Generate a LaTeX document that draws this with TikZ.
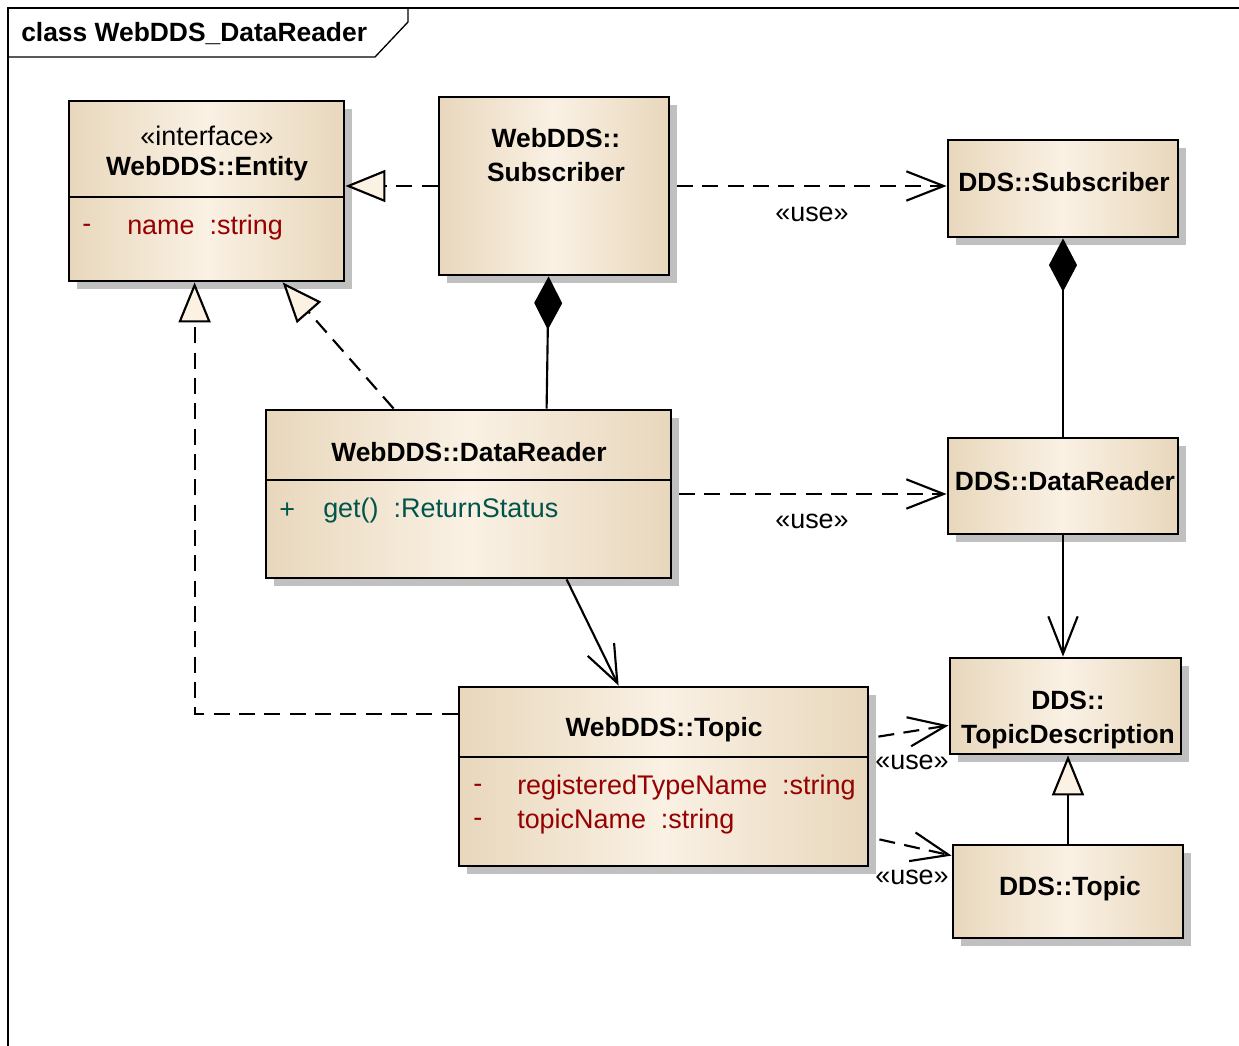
\documentclass[tikz,border=0pt]{standalone}
\usepackage{fontspec}
\setmainfont{Liberation Sans}
\usetikzlibrary{arrows.meta,calc,fit,shadows}

\definecolor{tanE}{RGB}{232,215,188}
\definecolor{tanC}{RGB}{250,241,228}
\definecolor{shadowgray}{RGB}{192,192,192}
\definecolor{attrred}{RGB}{150,0,0}
\definecolor{opteal}{RGB}{0,85,75}
\definecolor{trifill}{RGB}{252,242,228}

\tikzset{
  cls/.style={draw=black, line width=2.1pt, inner sep=0pt,
    left color=tanE, right color=tanE, middle color=tanC,
    drop shadow={shadow xshift=6pt, shadow yshift=-6pt, fill=shadowgray, opacity=1}},
  clsname/.style={font=\fontsize{19.8}{22}\selectfont\bfseries, inner sep=0pt},
  plain/.style={font=\fontsize{20.2}{23}\selectfont, inner sep=0pt},
  attr/.style={plain, text=attrred, anchor=west},
  oper/.style={plain, text=opteal, anchor=west},
  conn/.style={line width=1.6pt},
  dep/.style={conn, dash pattern=on 12pt off 7pt},
  usetip/.tip={Straight Barb[length=28pt, width=22pt, line width=1.6pt]},
  realtip/.tip={Triangle[length=30pt, width=24pt, fill=trifill, line width=1.6pt]},
  comptip/.tip={Diamond[length=40pt, width=21pt]},
}

\begin{document}
\begin{tikzpicture}[x=0.75pt, y=-0.75pt]
\useasboundingbox (0,0) rectangle (1239,1046);

% diagram frame and title tab
\draw[line width=1pt] (8,1046) -- (8,8) -- (1239,8);
\draw[line width=1pt] (8,57) -- (375,57) -- (408,22) -- (408,8);
\node[font=\fontsize{19.8}{22}\selectfont\bfseries, anchor=west, inner sep=0pt] (title) at (21,34) {class WebDDS\_DataReader};

% classes
\node[cls, fit={(69,101) (344,281)}] (ent) {};
\draw[line width=2.1pt] (69,197) -- (344,197);
\node[plain] (entst) at (207,136) {«interface»};
\node[clsname] (entnm) at (207,169) {WebDDS::Entity};
\node[attr] (entv) at (82,228) {-};
\node[attr] (enta) at (127,228) {name~~:string};

\node[cls, fit={(439,97) (669,275)}] (wsub) {};
\node[clsname, align=center] (wsubnm) at (556,155) {WebDDS::\\[4pt]Subscriber};

\node[cls, fit={(948,140) (1178,237)}] (dsub) {};
\node[clsname] (dsubnm) at (1064,182) {DDS::Subscriber};

\node[cls, fit={(266,410) (671,578)}] (wdr) {};
\draw[line width=2.1pt] (266,480) -- (671,480);
\node[clsname] (wdrnm) at (469,452) {WebDDS::DataReader};
\node[oper] (wdrv) at (279,511) {+};
\node[oper] (wdrop) at (323,511) {get()~~:ReturnStatus};

\node[cls, fit={(948,438) (1178,534)}] (ddr) {};
\node[clsname] (ddrnm) at (1065,481) {DDS::DataReader};

\node[cls, fit={(459,687) (868,866)}] (wtop) {};
\draw[line width=2.1pt] (459,757) -- (868,757);
\node[clsname] (wtopnm) at (664,730) {WebDDS::Topic};
\node[attr] (wtopv1) at (473,788) {-};
\node[attr] (wtopa1) at (517,788) {registeredTypeName~~:string};
\node[attr] (wtopv2) at (473,822) {-};
\node[attr] (wtopa2) at (517,822) {topicName~~:string};

\node[cls, fit={(950,658) (1181,754)}] (tdesc) {};
\node[clsname, align=center] (tdescnm) at (1068,720) {DDS::\\[4pt]TopicDescription};

\node[cls, fit={(953,845) (1183,938)}] (dtop) {};
\node[clsname] (dtopnm) at (1070,889) {DDS::Topic};

% realizations of the interface
\draw[dep, -realtip] (wsub.west) -- (wsub.west -| ent.east);
\draw[dep, -realtip] ($(wdr.north west)+(129,0)$) -- ($(ent.south west)+(215,0)$);
\draw[dep, -realtip] ($(wtop.north west)+(0,28)$) -| ($(ent.south west)+(127,0)$);

% compositions
\draw[conn, -comptip] ($(wdr.north west)+(282,0)$) -- ($(wsub.south west)+(111,0)$);
\draw[conn, -comptip] (ddr.north) -- (dsub.south);

% associations
\draw[conn, -usetip] ($(wdr.south west)+(302,0)$) -- ($(wtop.north west)+(161,0)$);
\draw[conn, -usetip] (ddr.south) -- (ddr.south |- tdesc.north);

% generalization
\draw[conn, -realtip] (dtop.north) -- (dtop.north |- tdesc.south);

% usage dependencies
\draw[dep, -usetip, shorten <=5pt] (wsub.east) -- (wsub.east -| dsub.west);
\node[plain] (use1) at (812,214) {«use»};
\draw[dep, -usetip, shorten <=5pt] (wdr.east) -- (wdr.east -| ddr.west);
\node[plain] (use2) at (812,521) {«use»};
\draw[dep, -usetip] ($(wtop.north east)+(9,51)$) -- ($(tdesc.south west)+(0,-30)$);
\node[plain] (use3) at (912,762) {«use»};
\draw[dep, -usetip] ($(wtop.south east)+(10,-28)$) -- ($(dtop.north west)+(0,12)$);
\node[plain] (use4) at (912,877) {«use»};
\end{tikzpicture}
\end{document}
